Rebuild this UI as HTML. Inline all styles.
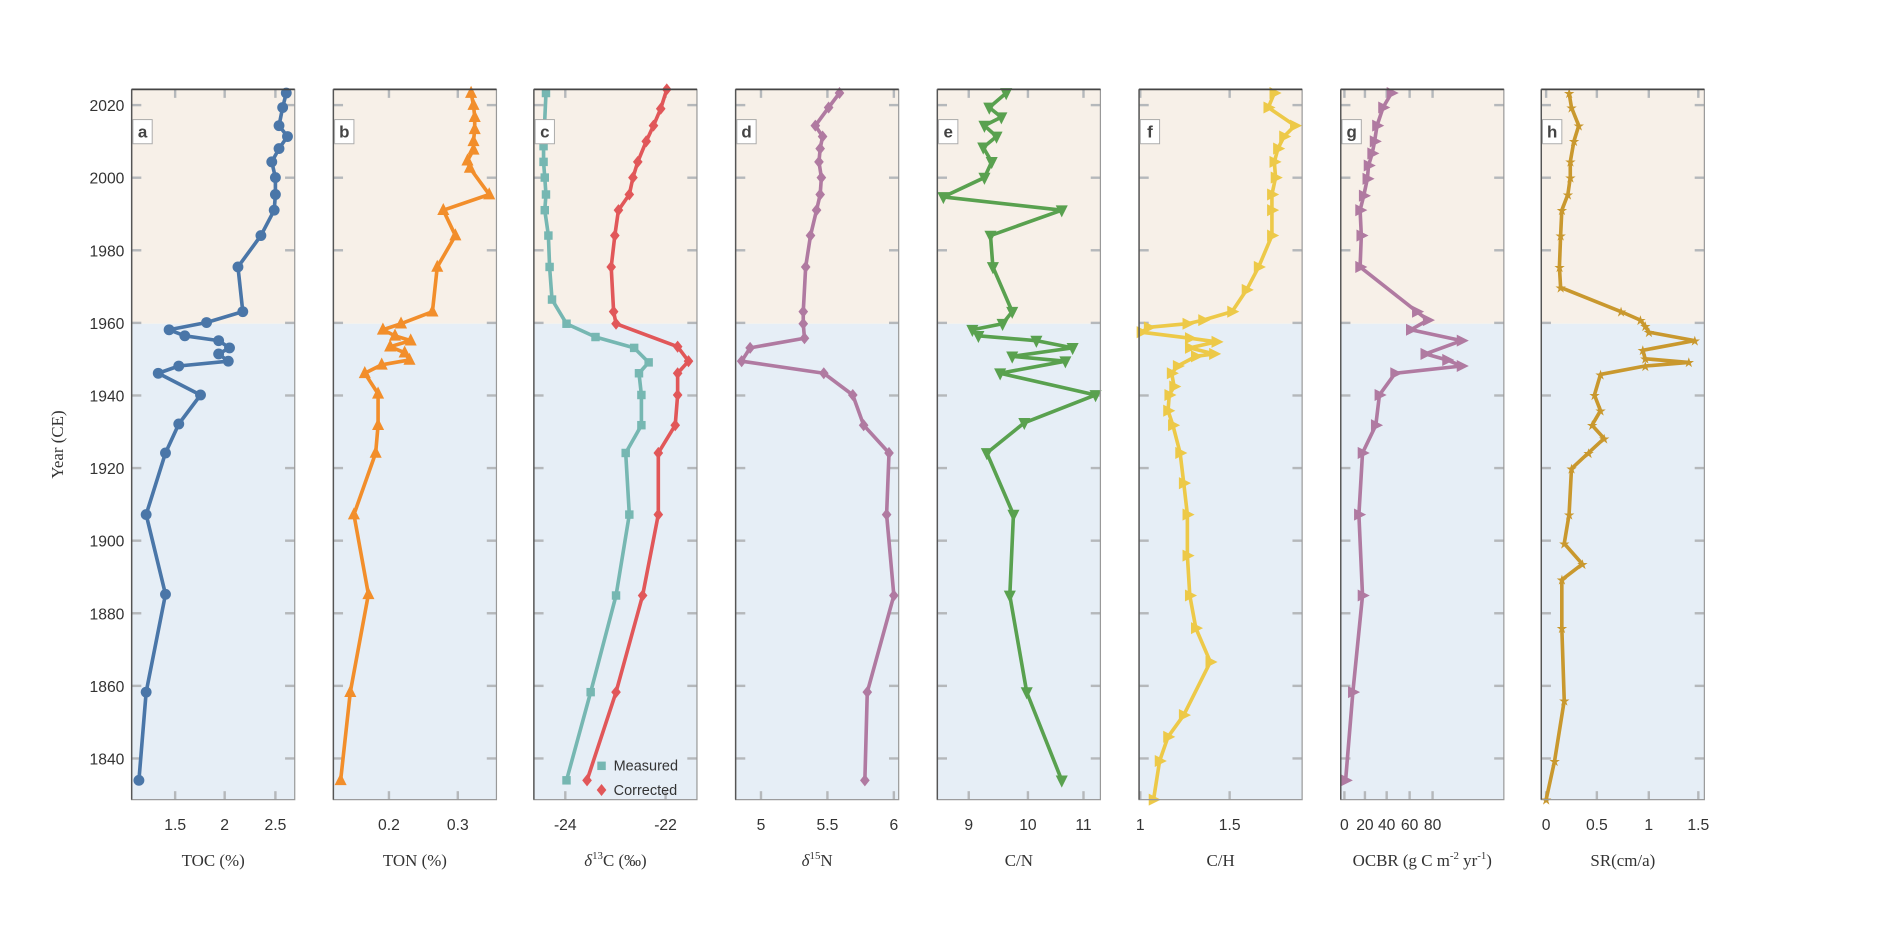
<!DOCTYPE html>
<html><head><meta charset="utf-8"><style>
html,body{margin:0;padding:0;background:#fff;}
svg{display:block;font-family:"Liberation Sans",Arial,sans-serif;}
</style></head><body>
<svg id="s" width="1894" height="944" viewBox="0 0 1568 781.5" xmlns="http://www.w3.org/2000/svg"></svg>
<script>
(function(){
const S=document.getElementById('s');let h='';
const TOP=74,BOT=662,Y60=268;
const px=[109,276,442,609,776,943,1110,1276],W=135;
const Y=yr=>87+(2020-yr)*3.005;
const panels=[
{l:'a',lab:'TOC (%)',ticks:[[145,'1.5'],[186,'2'],[228,'2.5']],c:'#4a76a8',m:'o',
 p:[[237,77],[234,89],[231,104],[238,113],[231,123],[225,134],[228,147],[228,161],[227,174],[216,195],[197,221],[201,258],[171,267],[140,273],[153,278],[181,282],[190,288],[181,293],[189,299],[148,303],[131,309],[166,327],[148,351],[137,375],[121,426],[137,492],[121,573],[115,646]]},
{l:'b',lab:'TON (%)',ticks:[[322,'0.2'],[379,'0.3']],c:'#f28e2b',m:'t',
 p:[[390,77],[392,87],[393,97],[393,107],[392,117],[392,124],[387,133],[389,139],[405,161],[367,174],[377,195],[362,221],[358,258],[332,268],[317,273],[327,278],[340,282],[323,287],[335,292],[339,298],[316,302],[302,309],[313,326],[313,352],[311,375],[293,426],[305,492],[290,573],[282,646]]},
{l:'c',lab:'c13',ticks:[[468,'-24'],[551,'-22']],c:'#76b7b2',m:'s',
 p:[[452,77],[450,121],[450,134],[451,147],[452,161],[451,174],[454,195],[455,221],[457,248],[469,268],[493,279],[525,288],[537,300],[529,309],[531,327],[531,352],[518,375],[521,426],[510,493],[489,573],[469,646]],
 p2:[[552,74],[547,90],[541,104],[535,117],[528,134],[524,147],[521,161],[512,174],[509,195],[506,221],[508,258],[510,268],[561,287],[570,299],[561,309],[561,327],[559,352],[545,375],[545,426],[532,493],[510,573],[486,646]],c2:'#e15759',m2:'d'},
{l:'d',lab:'n15',ticks:[[630,'5'],[685,'5.5'],[740,'6']],c:'#b07aa1',m:'d',
 p:[[695,77],[686,89],[675,104],[681,113],[679,123],[678,134],[680,147],[679,161],[676,174],[671,195],[667,221],[665,258],[665,268],[666,280],[621,288],[614,299],[682,309],[706,327],[715,352],[736,375],[734,426],[740,493],[718,573],[716,646]]},
{l:'e',lab:'C/N',ticks:[[802,'9'],[851,'10'],[897,'11']],c:'#59a14f',m:'v',
 p:[[833,77],[819,89],[829,97],[815,104],[825,113],[814,122],[821,134],[815,147],[781,163],[879,174],[820,195],[822,221],[838,258],[830,268],[805,273],[810,278],[858,282],[888,288],[838,295],[882,299],[828,309],[907,327],[848,350],[817,375],[839,426],[836,493],[850,573],[879,646]]},
{l:'f',lab:'C/H',ticks:[[944,'1'],[1018,'1.5']],c:'#edc948',m:'r',
 p:[[1055,77],[1050,89],[1072,104],[1063,113],[1058,123],[1055,134],[1056,147],[1053,161],[1053,174],[1053,195],[1042,221],[1032,240],[1020,258],[996,265],[983,268],[951,271],[945,275],[985,280],[1007,283],[985,288],[1005,293],[990,295],[975,303],[970,309],[972,320],[968,327],[967,340],[971,352],[977,375],[980,400],[983,426],[983,460],[985,493],[990,520],[1002,548],[980,592],[967,610],[960,630],[955,662]]},
{l:'g',lab:'ocbr',ticks:[[1113,'0'],[1130,'20'],[1148,'40'],[1167,'60'],[1186,'80']],c:'#b07aa1',m:'r',
 p:[[1152,77],[1145,89],[1140,104],[1138,117],[1136,127],[1133,137],[1132,148],[1129,162],[1126,174],[1127,195],[1126,221],[1173,258],[1182,265],[1168,273],[1210,282],[1180,293],[1198,298],[1210,303],[1155,309],[1142,327],[1139,352],[1128,375],[1125,426],[1128,493],[1120,573],[1114,646]]},
{l:'h',lab:'SR(cm/a)',ticks:[[1280,'0'],[1322,'0.5'],[1365,'1'],[1406,'1.5']],c:'#c9982e',m:'*',
 p:[[1299,77],[1301,89],[1307,104],[1303,117],[1300,134],[1300,147],[1298,161],[1293,174],[1292,195],[1291,221],[1292,238],[1342,258],[1358,265],[1362,270],[1365,275],[1403,282],[1360,290],[1362,297],[1398,300],[1362,303],[1325,310],[1320,327],[1325,340],[1318,352],[1328,363],[1315,375],[1301,388],[1299,426],[1295,450],[1310,467],[1293,480],[1293,520],[1295,580],[1287,630],[1280,662]]}
];
function mk(t,x,y,c){
 if(t=='o')return `<circle cx="${x}" cy="${y}" r="4.5" fill="${c}"/>`;
 if(t=='s')return `<rect x="${x-3.5}" y="${y-3.5}" width="7" height="7" fill="${c}"/>`;
 if(t=='d')return `<polygon points="${x},${y-5} ${x+4},${y} ${x},${y+5} ${x-4},${y}" fill="${c}"/>`;
 if(t=='t')return `<polygon points="${x},${y-6} ${x+5},${y+4} ${x-5},${y+4}" fill="${c}"/>`;
 if(t=='v')return `<polygon points="${x},${y+6} ${x+5},${y-4} ${x-5},${y-4}" fill="${c}"/>`;
 if(t=='r')return `<polygon points="${x-4},${y-5} ${x+6},${y} ${x-4},${y+5}" fill="${c}"/>`;
 if(t=='*')return `<text x="${x}" y="${y+4}" font-size="11" text-anchor="middle" fill="${c}">★</text>`;
 return '';
}
function series(p,c,m){let s=`<polyline points="${p.map(q=>q.join(',')).join(' ')}" fill="none" stroke="${c}" stroke-width="3" stroke-linejoin="round"/>`;p.forEach(q=>s+=mk(m,q[0],q[1],c));return s;}
panels.forEach((P,i)=>{const x0=px[i],x1=x0+W;
 h+=`<rect x="${x0}" y="${TOP}" width="${W}" height="${Y60-TOP}" fill="#f7f0e8"/><rect x="${x0}" y="${Y60}" width="${W}" height="${BOT-Y60}" fill="#e6eef6"/>`;
 for(let yr=1840;yr<=2020;yr+=20){const y=Y(yr);h+=`<line x1="${x0}" x2="${x0+8}" y1="${y}" y2="${y}" stroke="#b5b8bb" stroke-width="2"/><line x1="${x1-8}" x2="${x1}" y1="${y}" y2="${y}" stroke="#b5b8bb" stroke-width="2"/>`;}
 P.ticks.forEach(t=>{h+=`<line x1="${t[0]}" x2="${t[0]}" y1="${TOP}" y2="${TOP+7}" stroke="#b5b8bb" stroke-width="2"/><line x1="${t[0]}" x2="${t[0]}" y1="${BOT-7}" y2="${BOT}" stroke="#b5b8bb" stroke-width="2"/><text x="${t[0]}" y="687" font-size="13" text-anchor="middle" fill="#333">${t[1]}</text>`;});
 h+=series(P.p,P.c,P.m);if(P.p2)h+=series(P.p2,P.c2,P.m2);
 h+=`<rect x="${x0}" y="${TOP}" width="${W}" height="${BOT-TOP}" fill="none" stroke="#999" stroke-width="1"/><line x1="${x0}" x2="${x1}" y1="${TOP}" y2="${TOP}" stroke="#444" stroke-width="1.5"/><line x1="${x0}" x2="${x0}" y1="${TOP}" y2="${BOT}" stroke="#555" stroke-width="1.2"/>`;
 h+=`<rect x="${x0+1}" y="${TOP+25}" width="16" height="20" fill="#fff" stroke="#aaa" stroke-width="0.8"/><text x="${x0+9}" y="${TOP+40}" font-size="14" font-weight="bold" text-anchor="middle" fill="#444">${P.l}</text>`;
 const cx=x0+W/2;let lab;
 if(P.lab=='c13')lab=`<tspan font-style="italic">δ</tspan><tspan font-size="9" dy="-6">13</tspan><tspan dy="6">C (‰)</tspan>`;
 else if(P.lab=='n15')lab=`<tspan font-style="italic">δ</tspan><tspan font-size="9" dy="-6">15</tspan><tspan dy="6">N</tspan>`;
 else if(P.lab=='ocbr')lab=`OCBR (g C m<tspan font-size="9" dy="-6">-2</tspan><tspan dy="6"> yr</tspan><tspan font-size="9" dy="-6">-1</tspan><tspan dy="6">)</tspan>`;
 else lab=P.lab;
 h+=`<text x="${cx}" y="717" font-size="14" text-anchor="middle" fill="#333" font-family="Liberation Serif,serif">${lab}</text>`;
});
for(let yr=1840;yr<=2020;yr+=20)h+=`<text x="103" y="${Y(yr)+5}" font-size="13" text-anchor="end" fill="#333">${yr}</text>`;
h+=`<text transform="translate(52,368) rotate(-90)" font-size="14" text-anchor="middle" fill="#333" font-family="Liberation Serif,serif">Year (CE)</text>`;
h+=mk('s',498,634,'#76b7b2')+`<text x="508" y="638" font-size="12" fill="#333">Measured</text>`+mk('d',498,654,'#e15759')+`<text x="508" y="658" font-size="12" fill="#333">Corrected</text>`;
S.innerHTML=h;
})();
</script>
</body></html>
